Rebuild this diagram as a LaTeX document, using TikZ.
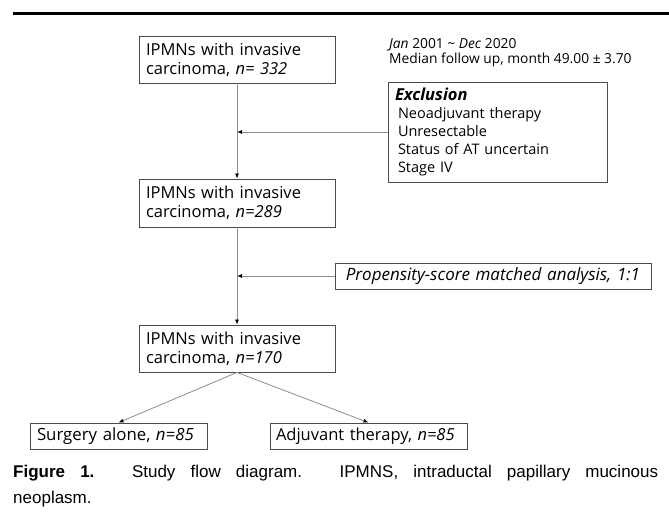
\documentclass[tikz,border=0pt]{standalone}
\usepackage{fontspec}
\setmainfont{Open Sans}
\newfontfamily\capfont{Liberation Sans}
\usetikzlibrary{arrows.meta}

\begin{document}
\begin{tikzpicture}[x=1pt,y=-1pt,
  box/.style={draw=black!70, line width=.9pt, inner xsep=7pt, inner ysep=0pt, align=left, font=\fontsize{16.5}{19}\selectfont},
  link/.style={draw=black!45, line width=.8pt, -{Latex[length=5pt,width=4pt,black]}}]
\useasboundingbox (0,0) rectangle (669,517);
\draw[line width=3.4pt] (13,13.5) -- (669,13.5);

% MAIN COLUMN
\node[box, minimum width=196pt, minimum height=47pt, text width=182pt] (total) at (237,59.5) {IPMNs with invasive\\carcinoma, \textit{n= 332}};
\node[box, minimum width=196pt, minimum height=48pt, text width=182pt] (eligible) at (237,203) {IPMNs with invasive\\carcinoma, \textit{n=289}};
\node[box, minimum width=196pt, minimum height=47pt, text width=182pt] (matched) at (237,348.5) {IPMNs with invasive\\carcinoma, \textit{n=170}};
\node[box, minimum width=177pt, minimum height=26pt, text width=163pt, font=\fontsize{16.8}{19}\selectfont] (surgery) at (118.5,436) {Surgery alone, \textit{n=85}};
\node[box, minimum width=197pt, minimum height=26pt, inner xsep=6pt, text width=185pt, font=\fontsize{16.5}{19}\selectfont] (adjuvant) at (368.5,436) {Adjuvant therapy, \textit{n=85}};

% SIDE BOXES
\node[anchor=north west, inner sep=0pt, align=left, font=\fontsize{13.8}{15.5}\selectfont] (period) at (389,38) {\textit{Jan} 2001 \textasciitilde{} \textit{Dec} 2020\\Median follow up, month 49.00 ± 3.70};
\node[box, minimum width=219pt, minimum height=100pt, text width=205pt, font=\fontsize{14.5}{18}\selectfont] (excl) at (497.5,132) {{\fontsize{16.5}{18}\selectfont\textbf{\textit{Exclusion}}}\\
\hspace*{3pt}Neoadjuvant therapy\\
\hspace*{3pt}Unresectable\\
\hspace*{3pt}Status of AT uncertain\\
\hspace*{3pt}Stage IV};
\node[box, minimum width=316pt, minimum height=26pt, text width=302pt, align=center, font=\fontsize{17}{19}\selectfont] (psm) at (493,276) {\textit{Propensity-score matched analysis, 1:1}};

\coordinate (j1) at (total.south |- excl.west);
\coordinate (j2) at (total.south |- psm.west);

% CONNECTORS
\draw[link] (total) -- (eligible);
\draw[link] (excl.west) -- (j1);
\draw[link] (eligible) -- (matched);
\draw[link] (psm.west) -- (j2);
\draw[link] (matched.south) -- (surgery.north);
\draw[link] (matched.south) -- (adjuvant.north);

% CAPTION
\node[anchor=north west, inner sep=0pt, text width=645pt, align=justify, font=\capfont\fontsize{17}{26}\selectfont] (caption) at (13,465) {\textbf{Figure 1.} Study flow diagram. IPMNS, intraductal papillary mucinous\linebreak neoplasm.};
\end{tikzpicture}
\end{document}
